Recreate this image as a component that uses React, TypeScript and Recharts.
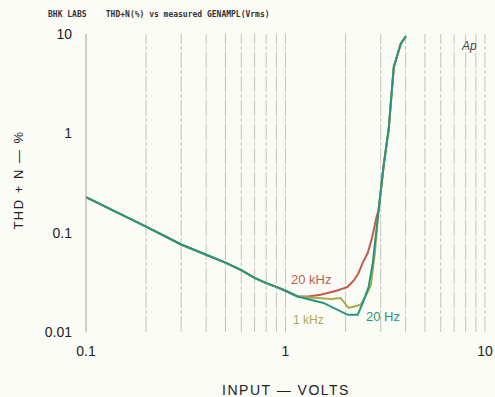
import { LineChart, Line, XAxis, YAxis, ReferenceLine } from 'recharts';

// shared low-level part of all three curves (input volts, THD+N %)
const baseVolts = [0.1, 0.2, 0.3, 0.4, 0.5, 0.6, 0.7, 0.8, 0.9, 1.0, 1.15];
const baseThd = [0.228, 0.115, 0.076, 0.06, 0.05, 0.042, 0.035, 0.031, 0.0285, 0.026, 0.0228];

const khz20Volts = [1.3, 1.5, 1.8, 2.05, 2.2, 2.32, 2.44, 2.58, 2.72, 2.85, 2.93, 3.11, 3.29, 3.49, 3.78, 4.01];
const khz20Thd = [0.0228, 0.0237, 0.026, 0.0285, 0.033, 0.039, 0.05, 0.062, 0.09, 0.14, 0.171, 0.486, 1.1, 4.65, 7.95, 9.5];

const khz1Volts = [1.45, 1.7, 1.89, 2.07, 2.38, 2.55, 2.68, 2.8, 2.93, 3.11, 3.29, 3.49, 3.78, 4.01];
const khz1Thd = [0.022, 0.0215, 0.022, 0.0175, 0.0188, 0.024, 0.0298, 0.06, 0.171, 0.486, 1.1, 4.65, 7.95, 9.5];

const hz20Volts = [1.55, 2.05, 2.3, 2.45, 2.61, 2.74, 2.93, 3.11, 3.29, 3.49, 3.78, 4.01];
const hz20Thd = [0.0196, 0.0149, 0.0149, 0.02, 0.0285, 0.05, 0.171, 0.486, 1.1, 4.65, 7.95, 9.5];

const xTicks = [0.1, 1, 10];
const yTicks = [0.01, 0.1, 1, 10];
const gridVolts = [0.2, 0.3, 0.4, 0.5, 0.6, 0.7, 0.8, 0.9, 1, 2, 3, 4, 5, 6, 7, 8, 9, 10];

const toRows = (xs: number[], ys: number[]) =>
    baseVolts.concat(xs).map((v, i) => ({ volts: v, thd: baseThd.concat(ys)[i] }));

const red = '#c25a4c';
const olive = '#a9ab4a';
const teal = '#25957f';

const tickStyle = { fontSize: 14, fill: '#222', fontFamily: 'Liberation Sans, Arial, sans-serif' };

export default function App() {
    return (
        <div
            style={{
                position: 'absolute',
                left: 0,
                top: 0,
                width: 495,
                height: 397,
                background: '#fcfcf6',
                fontFamily: 'Liberation Sans, Arial, sans-serif',
            }}
        >
            <div style={{ position: 'absolute', left: 48, top: 10, fontSize: 8, fontWeight: 'bold', color: '#333', fontFamily: 'DejaVu Sans Mono, monospace', whiteSpace: 'pre' }}>
                {'BHK LABS    THD+N(%) vs measured GENAMPL(Vrms)'}
            </div>
            <LineChart
                width={495}
                height={397}
                margin={{ top: 34, right: 10, left: 0, bottom: 35 }}
            >
                {gridVolts.map((v) => (
                    <ReferenceLine key={v} x={v} stroke="#c4c4bc" strokeWidth={1} strokeDasharray="16 2 4 2" />
                ))}
                <XAxis
                    dataKey="volts"
                    type="number"
                    scale="log"
                    domain={[0.1, 10]}
                    ticks={xTicks}
                    allowDataOverflow
                    axisLine={false}
                    tickLine={false}
                    tickSize={0}
                    tickMargin={14}
                    height={30}
                    tick={tickStyle}
                />
                <YAxis
                    dataKey="thd"
                    type="number"
                    scale="log"
                    domain={[0.01, 10]}
                    ticks={yTicks}
                    allowDataOverflow
                    axisLine={{ stroke: '#a0a09a' }}
                    tickLine={false}
                    tickSize={0}
                    tickMargin={14}
                    width={86}
                    tick={tickStyle}
                />
                <Line data={toRows(khz20Volts, khz20Thd)} dataKey="thd" stroke={red} strokeWidth={2} dot={false} isAnimationActive={false} />
                <Line data={toRows(khz1Volts, khz1Thd)} dataKey="thd" stroke={olive} strokeWidth={2} dot={false} isAnimationActive={false} />
                <Line data={toRows(hz20Volts, hz20Thd)} dataKey="thd" stroke={teal} strokeWidth={2} dot={false} isAnimationActive={false} />
            </LineChart>
            <div style={{ position: 'absolute', left: 291, top: 272, fontSize: 13, color: red }}>20 kHz</div>
            <div style={{ position: 'absolute', left: 293, top: 313, fontSize: 12, color: olive }}>1 kHz</div>
            <div style={{ position: 'absolute', left: 366, top: 309, fontSize: 13, color: teal }}>20 Hz</div>
            <div style={{ position: 'absolute', left: 462, top: 39, fontSize: 12, fontStyle: 'italic', color: '#444' }}>Ap</div>
            <div
                style={{
                    position: 'absolute',
                    left: 18,
                    top: 180,
                    transform: 'translate(-50%, -50%) rotate(-90deg)',
                    fontSize: 13,
                    letterSpacing: 1.5,
                    whiteSpace: 'nowrap',
                    color: '#222',
                }}
            >
                THD + N — %
            </div>
            <div
                style={{
                    position: 'absolute',
                    left: 286,
                    top: 390,
                    transform: 'translate(-50%, -50%)',
                    fontSize: 14,
                    letterSpacing: 1.5,
                    whiteSpace: 'nowrap',
                    color: '#222',
                }}
            >
                INPUT — VOLTS
            </div>
        </div>
    );
}
